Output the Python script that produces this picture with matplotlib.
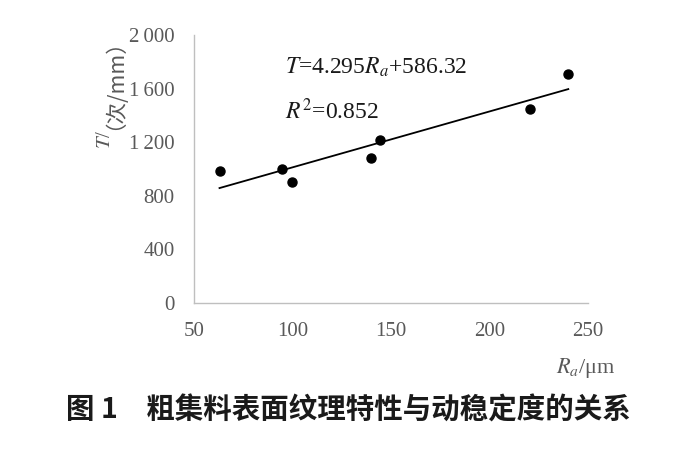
import matplotlib
matplotlib.use('Agg')
import matplotlib.pyplot as plt
import numpy as np

# Surface texture Ra (um) vs dynamic stability T (times/mm)
ra_values = [63, 94.5, 100, 140, 144.5, 220.5, 240]
t_values = [985, 1002, 903, 1084, 1214, 1450, 1709]

x_ticks = [50, 100, 150, 200, 250]
y_ticks = [0, 400, 800, 1200, 1600, 2000]
y_tick_labels = ['0', '400', '800', '1\u2009200', '1\u2009600', '2\u2009000']

equation_text = r'$T$=4.295$R_a$+586.32'
r2_text = r'$R^2$=0.852'
y_label_symbol = '$T$/'
y_label_unit = '（次/mm）'
caption = '图 1\u3000粗集料表面纹理特性与动稳定度的关系'

plt.rcParams['font.family'] = ['Liberation Serif', 'Noto Sans CJK SC', 'DejaVu Sans']
plt.rcParams['mathtext.fontset'] = 'stix'

grey = '#595959'
cjk = ['Noto Sans CJK SC', 'DejaVu Sans']

fig = plt.figure(figsize=(7, 4.5), dpi=100)
ax = fig.add_axes([0.277, 0.327, 0.563, 0.595])

# Linear trendline fitted from the points, spanning the data range
slope, intercept = np.polyfit(ra_values, t_values, 1)
line_x = np.array([min(ra_values), max(ra_values)])
ax.plot(line_x, slope * line_x + intercept, color='black', lw=1.3, zorder=2)
ax.plot(ra_values, t_values, 'o', color='black', ms=6.5, zorder=3)

ax.set_xlim(50, 250)
ax.set_ylim(0, 2000)
ax.set_xticks(x_ticks)
ax.set_yticks(y_ticks)
ax.set_yticklabels(y_tick_labels)
ax.tick_params(length=0, labelsize=15, labelcolor=grey)
ax.tick_params(axis='x', pad=14)
ax.tick_params(axis='y', pad=14)
for side in ('top', 'right'):
    ax.spines[side].set_visible(False)
for side in ('left', 'bottom'):
    ax.spines[side].set_color('#bfbfbf')
    ax.spines[side].set_linewidth(1.0)

ax.text(0.23, 0.88, equation_text, transform=ax.transAxes, fontsize=17,
        color='#1a1a1a', ha='left', va='center')
ax.text(0.23, 0.715, r2_text, transform=ax.transAxes, fontsize=17,
        color='#1a1a1a', ha='left', va='center')

# y label split so the CJK part is drawn by a CJK font; both share one baseline
fig.text(0.157, 0.711, y_label_symbol, rotation=90, rotation_mode='anchor',
         fontsize=15, color=grey, ha='right', va='baseline')
fig.text(0.157, 0.711, y_label_unit, rotation=90, rotation_mode='anchor',
         fontsize=15.5, color=grey, family=cjk, ha='left', va='baseline')
fig.text(0.88, 0.182, '$R_a$/μm', fontsize=16, color=grey,
         ha='right', va='center')

fig.text(0.498, 0.088, caption, family=cjk,
         fontsize=20.5, fontweight='bold', color='#1a1a1a',
         ha='center', va='center')

fig.savefig('out.png', dpi=100)
